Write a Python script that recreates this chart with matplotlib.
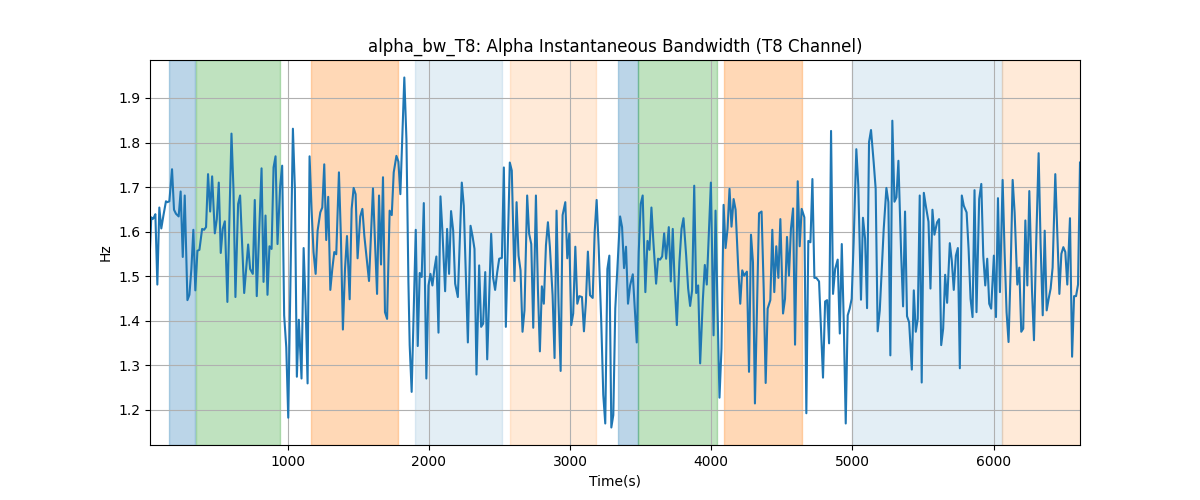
import matplotlib
matplotlib.use("Agg")
import matplotlib.pyplot as plt
import numpy as np

title = "alpha_bw_T8: Alpha Instantaneous Bandwidth (T8 Channel)"
x_label = "Time(s)"
y_label = "Hz"

time_s = [
    26, 35, 45, 54, 64, 78, 92, 106, 121, 139, 149, 163, 182, 196, 210, 229, 243, 258, 272, 291,
    305, 319, 333, 347, 362, 376, 395, 409, 423, 437, 452, 466, 485, 499, 513, 527, 541, 556, 574, 603,
    617, 631, 650, 664, 693, 707, 721, 735, 754, 768, 782, 816, 830, 844,
    858, 872, 887, 901, 915, 929, 948, 962, 976, 991, 1005, 1038, 1052, 1066, 1080, 1099, 1114, 1128,
    1142, 1156, 1170, 1184, 1199, 1213, 1232, 1246, 1260, 1274, 1288, 1303, 1317, 1331, 1345, 1364,
    1378, 1392, 1407, 1421, 1440, 1454, 1468, 1482, 1496, 1515, 1530, 1544, 1577, 1605, 1619, 1634,
    1648, 1662, 1676,
    1690, 1705, 1723, 1738, 1752, 1771, 1785, 1799, 1827, 1842, 1856, 1865, 1879, 1908, 1922, 1936,
    1950, 1965, 1983, 1998, 2012, 2026, 2040, 2054, 2069, 2083, 2097, 2116, 2130, 2144, 2158, 2173,
    2187, 2206, 2234, 2248, 2277, 2296, 2310, 2324, 2338, 2357, 2371, 2385, 2400, 2414, 2442, 2456,
    2470, 2485, 2499,
    2518, 2532, 2546, 2574, 2588, 2607, 2622, 2636, 2650, 2664, 2678, 2697, 2711, 2726, 2740, 2759,
    2773, 2787, 2801, 2815, 2830, 2844, 2858, 2877, 2891, 2905, 2919, 2934, 2948, 2967, 2981, 2995,
    3009, 3023, 3038, 3052, 3066, 3085, 3099, 3113, 3127, 3142, 3161, 3175, 3189, 3203, 3222, 3236,
    3250, 3265, 3279, 3293, 3307, 3321,
    3355, 3369, 3383, 3397, 3411, 3426, 3445, 3459, 3473, 3487, 3501, 3515, 3534, 3549, 3563, 3577,
    3591, 3610, 3624, 3638, 3653, 3667, 3681, 3700, 3714, 3728, 3742, 3757, 3775, 3790, 3804, 3823,
    3837, 3851, 3865, 3880, 3894, 3908, 3922, 3941, 3955, 3969, 3984, 3998, 4017, 4031, 4045, 4059,
    4073, 4088, 4102, 4116, 4130, 4144,
    4159, 4173, 4192, 4206, 4220, 4234, 4253, 4268, 4282, 4296, 4310, 4324, 4339, 4357, 4372, 4386,
    4400, 4419, 4433, 4447, 4461, 4476, 4490, 4509, 4523, 4537, 4551, 4565, 4580, 4594, 4613, 4627,
    4641, 4660, 4674, 4688, 4703, 4717, 4731, 4745, 4764, 4792, 4807, 4821, 4835, 4849, 4863, 4878,
    4896, 4911, 4925, 4939, 4953, 4967,
    4981, 4995, 5009, 5028, 5042, 5061, 5075, 5090, 5104, 5118, 5132, 5151, 5165, 5179, 5194, 5208,
    5222, 5241, 5255, 5269, 5283, 5298, 5312, 5326, 5345, 5359, 5373, 5387, 5402, 5421, 5435, 5449,
    5463, 5477, 5491, 5506, 5520, 5539, 5553, 5567, 5581, 5600, 5614, 5629, 5643, 5657, 5671, 5690,
    5704, 5718, 5733, 5747, 5761, 5775, 5789,
    5809, 5823, 5837, 5851, 5865, 5879, 5898, 5913, 5927, 5941, 5955, 5969, 5983, 6002, 6017, 6031,
    6045, 6064, 6078, 6092, 6106, 6121, 6135, 6149, 6168, 6182, 6196, 6210, 6225, 6239, 6253, 6272,
    6286, 6300, 6319, 6333, 6348, 6362, 6376, 6390, 6404, 6418, 6437, 6452, 6466, 6480, 6494, 6508,
    6522, 6541, 6556, 6570, 6584, 6598, 6612,
]

bw_hz = [
    1.561, 1.632, 1.628, 1.632, 1.639, 1.481, 1.654, 1.607, 1.636, 1.668, 1.666, 1.668, 1.740, 1.649, 1.640, 1.634, 1.690, 1.543, 1.681, 1.446,
    1.458, 1.516, 1.604, 1.468, 1.557, 1.559, 1.606, 1.604, 1.610, 1.729, 1.645, 1.724, 1.596, 1.628, 1.710, 1.552, 1.606, 1.623, 1.442, 1.820,
    1.696, 1.453, 1.662, 1.681, 1.462, 1.516, 1.571, 1.516, 1.505, 1.671, 1.455, 1.742, 1.487, 1.636,
    1.458, 1.567, 1.561, 1.744, 1.769, 1.572, 1.703, 1.748, 1.412, 1.340, 1.182, 1.831, 1.696, 1.274, 1.402, 1.270, 1.563, 1.434,
    1.259, 1.769, 1.651, 1.554, 1.505, 1.602, 1.643, 1.654, 1.751, 1.581, 1.678, 1.469, 1.516, 1.554, 1.549, 1.733,
    1.587, 1.380, 1.516, 1.590, 1.448, 1.651, 1.698, 1.684, 1.540, 1.634, 1.651, 1.590, 1.489, 1.697, 1.579, 1.460,
    1.681, 1.526, 1.722,
    1.419, 1.404, 1.647, 1.637, 1.733, 1.770, 1.757, 1.684, 1.946, 1.807, 1.487, 1.345, 1.240, 1.604, 1.343, 1.507,
    1.498, 1.664, 1.270, 1.479, 1.505, 1.479, 1.516, 1.544, 1.373, 1.679, 1.599, 1.466, 1.606, 1.505, 1.646, 1.602,
    1.483, 1.453, 1.710, 1.658, 1.351, 1.613, 1.590, 1.561, 1.279, 1.524, 1.386, 1.393, 1.509, 1.313, 1.595, 1.496,
    1.469, 1.509, 1.539,
    1.541, 1.744, 1.386, 1.755, 1.737, 1.489, 1.666, 1.546, 1.513, 1.375, 1.423, 1.681, 1.595, 1.572, 1.384, 1.681,
    1.472, 1.331, 1.477, 1.438, 1.569, 1.621, 1.565, 1.457, 1.316, 1.647, 1.442, 1.287, 1.637, 1.666, 1.540, 1.595,
    1.390, 1.416, 1.566, 1.438, 1.455, 1.453, 1.376, 1.442, 1.555, 1.457, 1.451, 1.599, 1.671, 1.569, 1.393, 1.233,
    1.169, 1.516, 1.546, 1.160, 1.188, 1.427,
    1.634, 1.610, 1.518, 1.566, 1.438, 1.479, 1.504, 1.427, 1.351, 1.554, 1.662, 1.681, 1.464, 1.579, 1.559, 1.654,
    1.576, 1.483, 1.539, 1.537, 1.544, 1.596, 1.539, 1.610, 1.488, 1.606, 1.479, 1.390, 1.531, 1.606, 1.630, 1.546,
    1.472, 1.433, 1.468, 1.703, 1.462, 1.479, 1.304, 1.446, 1.525, 1.481, 1.599, 1.710, 1.367, 1.647, 1.427, 1.227,
    1.337, 1.660, 1.563, 1.606, 1.696, 1.611,
    1.673, 1.649, 1.516, 1.438, 1.513, 1.501, 1.510, 1.285, 1.593, 1.531, 1.214, 1.419, 1.641, 1.645, 1.472, 1.260,
    1.427, 1.446, 1.604, 1.464, 1.567, 1.496, 1.628, 1.416, 1.449, 1.588, 1.501, 1.606, 1.652, 1.346, 1.713, 1.567,
    1.651, 1.632, 1.192, 1.579, 1.576, 1.718, 1.496, 1.496, 1.488, 1.272, 1.443, 1.446, 1.349, 1.826, 1.460, 1.516,
    1.537, 1.371, 1.572, 1.397, 1.169, 1.412,
    1.427, 1.449, 1.576, 1.785, 1.703, 1.447, 1.631, 1.584, 1.428, 1.801, 1.828, 1.755, 1.696, 1.376, 1.423, 1.516,
    1.606, 1.698, 1.666, 1.322, 1.849, 1.667, 1.677, 1.759, 1.554, 1.432, 1.645, 1.410, 1.396, 1.290, 1.468, 1.375,
    1.404, 1.681, 1.261, 1.687, 1.658, 1.622, 1.472, 1.649, 1.593, 1.621, 1.628, 1.345, 1.382, 1.503, 1.440, 1.574,
    1.535, 1.469, 1.546, 1.563, 1.293, 1.681, 1.658,
    1.643, 1.561, 1.449, 1.408, 1.693, 1.419, 1.673, 1.707, 1.546, 1.479, 1.539, 1.438, 1.427, 1.546, 1.408, 1.675,
    1.464, 1.716, 1.554, 1.419, 1.352, 1.516, 1.716, 1.643, 1.481, 1.519, 1.375, 1.382, 1.625, 1.479, 1.691, 1.468,
    1.356, 1.554, 1.776, 1.572, 1.412, 1.602, 1.423, 1.449, 1.472, 1.519, 1.729, 1.590, 1.460, 1.550, 1.565, 1.554,
    1.481, 1.630, 1.319, 1.455, 1.455, 1.481, 1.755,
]

# shaded phases: (start, end, colour, alpha)
span_start = [163, 350, 1163, 1901, 2574, 3340, 3485, 4092, 4995, 6059]
span_end = [345, 948, 1785, 2518, 3184, 3485, 4040, 4643, 6059, 6700]
span_color = ["tab:blue", "tab:green", "tab:orange", "tab:blue", "tab:orange",
              "tab:blue", "tab:green", "tab:orange", "tab:blue", "tab:orange"]
span_alpha = [0.3, 0.3, 0.3, 0.12, 0.16, 0.3, 0.3, 0.3, 0.12, 0.16]

fig, ax = plt.subplots(figsize=(12, 5), dpi=100)
for s, e, c, a in zip(span_start, span_end, span_color, span_alpha):
    ax.axvspan(s, e, color=c, alpha=a)
ax.plot(time_s, bw_hz, color="tab:blue", linewidth=1.5)
ax.set_xlim(time_s[0], time_s[-1])
ax.set_title(title)
ax.set_xlabel(x_label)
ax.set_ylabel(y_label)
ax.grid(True)
fig.savefig("out.png")
